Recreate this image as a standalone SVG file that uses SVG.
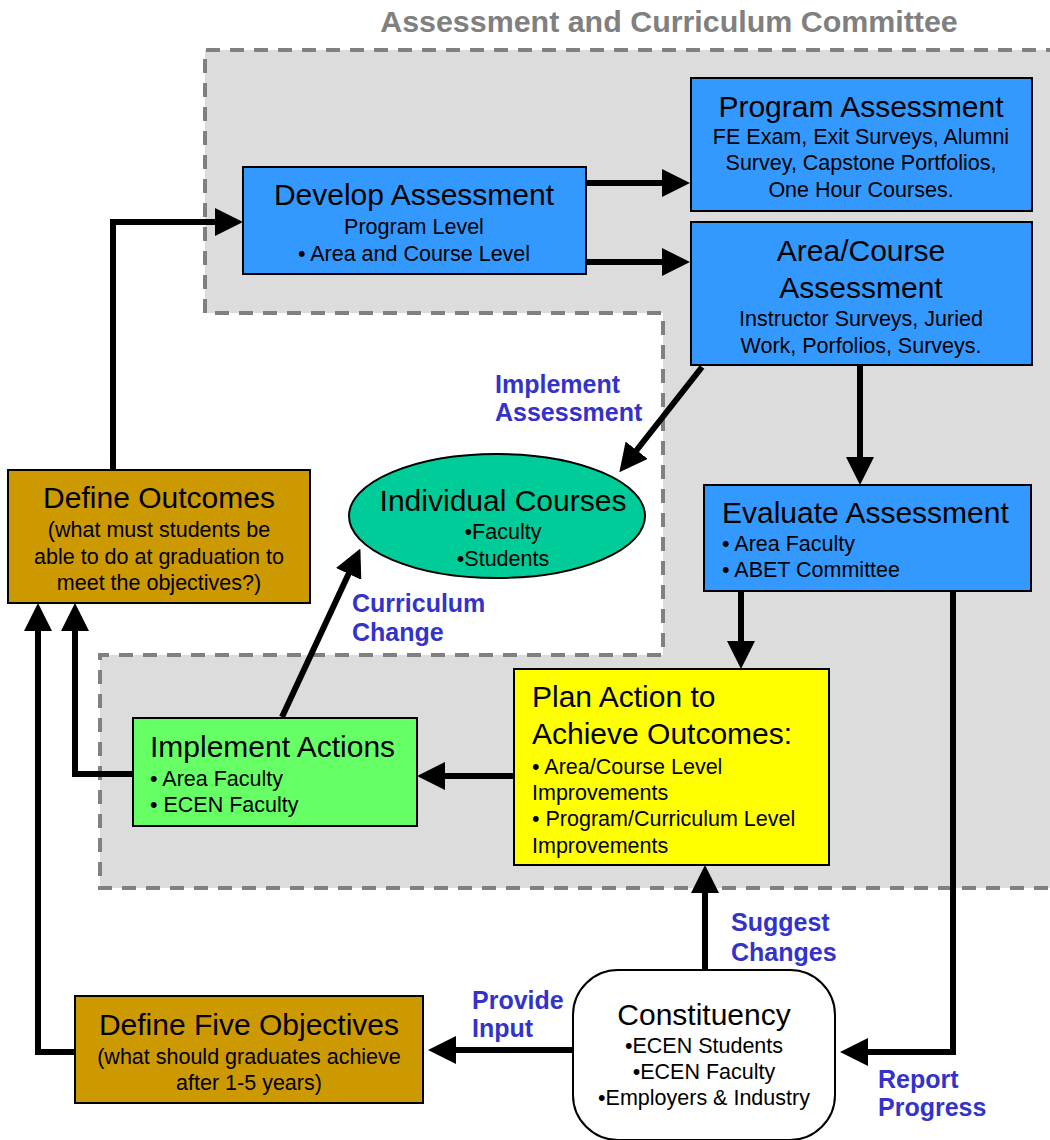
<svg xmlns="http://www.w3.org/2000/svg" width="1050" height="1140" viewBox="0 0 1050 1140">
<defs>
<style>
text{font-family:"Liberation Sans",Arial,sans-serif;fill:#000}
.t{font-size:30px}
.s{font-size:21.5px}
.c{text-anchor:middle}
.lbl{font-size:25px;font-weight:bold;fill:#3333cc}
.box{stroke:#000;stroke-width:2}
.blue{fill:#3399ff}
.gold{fill:#cc9900}
.ln{fill:none;stroke:#000;stroke-width:6}
</style>
<marker id="ah" markerUnits="userSpaceOnUse" viewBox="0 0 28 28" refX="1" refY="14" markerWidth="28" markerHeight="28" orient="auto">
<path d="M0,0 L28,14 L0,28 z" fill="#000"/>
</marker>
</defs>
<rect width="1050" height="1140" fill="#fff"/>
<g id="committee">
<path d="M1060,50 L205,50 L205,313 L663,313 L663,655 L100,655 L100,888 L1060,888" fill="#dcdcdc" stroke="#808080" stroke-width="4" stroke-dasharray="14,10"/>
<text x="669" y="32" text-anchor="middle" style="font-size:30.4px;font-weight:bold;fill:#808080">Assessment and Curriculum Committee</text>
</g>
<g id="connectors">
<path class="ln" d="M586,183 L663,183" marker-end="url(#ah)"/>
<path class="ln" d="M586,262 L663,262" marker-end="url(#ah)"/>
<path class="ln" d="M113,470 L113,222 L216,222" marker-end="url(#ah)"/>
<path class="ln" d="M702,367 L636,451" marker-end="url(#ah)"/>
<path class="ln" d="M860,365 L860,458" marker-end="url(#ah)"/>
<path class="ln" d="M741,591 L741,642" marker-end="url(#ah)"/>
<path class="ln" d="M514,776 L444,776" marker-end="url(#ah)"/>
<path class="ln" d="M282,717 L349,573" marker-end="url(#ah)"/>
<path class="ln" d="M133,774 L75,774 L75,630" marker-end="url(#ah)"/>
<path class="ln" d="M75,1052 L38,1052 L38,630" marker-end="url(#ah)"/>
<path class="ln" d="M705,970 L705,892" marker-end="url(#ah)"/>
<path class="ln" d="M953,591 L953,1052 L867,1052" marker-end="url(#ah)"/>
<path class="ln" d="M573,1050 L455,1050" marker-end="url(#ah)"/>
<text class="lbl" x="495" y="393">Implement</text>
<text class="lbl" x="495" y="421">Assessment</text>
<text class="lbl" x="352" y="612">Curriculum</text>
<text class="lbl" x="352" y="641">Change</text>
<text class="lbl" x="731" y="931">Suggest</text>
<text class="lbl" x="731" y="961">Changes</text>
<text class="lbl" x="472" y="1009">Provide</text>
<text class="lbl" x="472" y="1037">Input</text>
<text class="lbl" x="878" y="1088">Report</text>
<text class="lbl" x="878" y="1116">Progress</text>
</g>
<g id="develop">
<rect class="box blue" x="243" y="167" width="343" height="107"/>
<text class="t c" x="414" y="205">Develop Assessment</text>
<text class="s c" x="414" y="234">Program Level</text>
<text class="s c" x="414" y="261">• Area and Course Level</text>
</g>
<g id="program">
<rect class="box blue" x="691" y="78" width="341" height="133"/>
<text class="t c" x="861" y="117">Program Assessment</text>
<text class="s c" x="861" y="144">FE Exam, Exit Surveys, Alumni</text>
<text class="s c" x="861" y="170">Survey, Capstone Portfolios,</text>
<text class="s c" x="861" y="197">One Hour Courses.</text>
</g>
<g id="area">
<rect class="box blue" x="691" y="222" width="341" height="143"/>
<text class="t c" x="861" y="261">Area/Course</text>
<text class="t c" x="861" y="298">Assessment</text>
<text class="s c" x="861" y="326">Instructor Surveys, Juried</text>
<text class="s c" x="861" y="353">Work, Porfolios, Surveys.</text>
</g>
<g id="evaluate">
<rect class="box blue" x="704" y="485" width="327" height="106"/>
<text class="t" x="722" y="523">Evaluate Assessment</text>
<text class="s" x="722" y="551">• Area Faculty</text>
<text class="s" x="722" y="577">• ABET Committee</text>
</g>
<g id="courses">
<ellipse cx="497" cy="516" rx="148" ry="62" fill="#00cc99" stroke="#000" stroke-width="2"/>
<text class="t c" x="503" y="511">Individual Courses</text>
<text class="s c" x="503" y="539">•Faculty</text>
<text class="s c" x="503" y="566">•Students</text>
</g>
<g id="outcomes">
<rect class="box gold" x="8" y="470" width="302" height="133"/>
<text class="t c" x="159" y="508">Define Outcomes</text>
<text class="s c" x="159" y="537">(what must students be</text>
<text class="s c" x="159" y="564">able to do at graduation to</text>
<text class="s c" x="159" y="590">meet the objectives?)</text>
</g>
<g id="implement">
<rect class="box" fill="#66ff66" x="133" y="718" width="284" height="108"/>
<text class="t" x="150" y="757">Implement Actions</text>
<text class="s" x="150" y="786">• Area Faculty</text>
<text class="s" x="150" y="812">• ECEN Faculty</text>
</g>
<g id="plan">
<rect class="box" fill="#ffff00" x="514" y="669" width="315" height="196"/>
<text class="t" x="532" y="707">Plan Action to</text>
<text class="t" x="532" y="744">Achieve Outcomes:</text>
<text class="s" x="532" y="774">• Area/Course Level</text>
<text class="s" x="532" y="800">Improvements</text>
<text class="s" x="532" y="826">• Program/Curriculum Level</text>
<text class="s" x="532" y="853">Improvements</text>
</g>
<g id="constituency">
<rect x="573" y="970" width="262" height="170" rx="45" fill="#fff" stroke="#000" stroke-width="2"/>
<text class="t c" x="704" y="1025">Constituency</text>
<text class="s c" x="704" y="1053">•ECEN Students</text>
<text class="s c" x="704" y="1079">•ECEN Faculty</text>
<text class="s c" x="704" y="1105">•Employers &amp; Industry</text>
</g>
<g id="objectives">
<rect class="box gold" x="75" y="996" width="348" height="107"/>
<text class="t c" x="249" y="1035">Define Five Objectives</text>
<text class="s c" x="249" y="1064">(what should graduates achieve</text>
<text class="s c" x="249" y="1090">after 1-5 years)</text>
</g>
</svg>
